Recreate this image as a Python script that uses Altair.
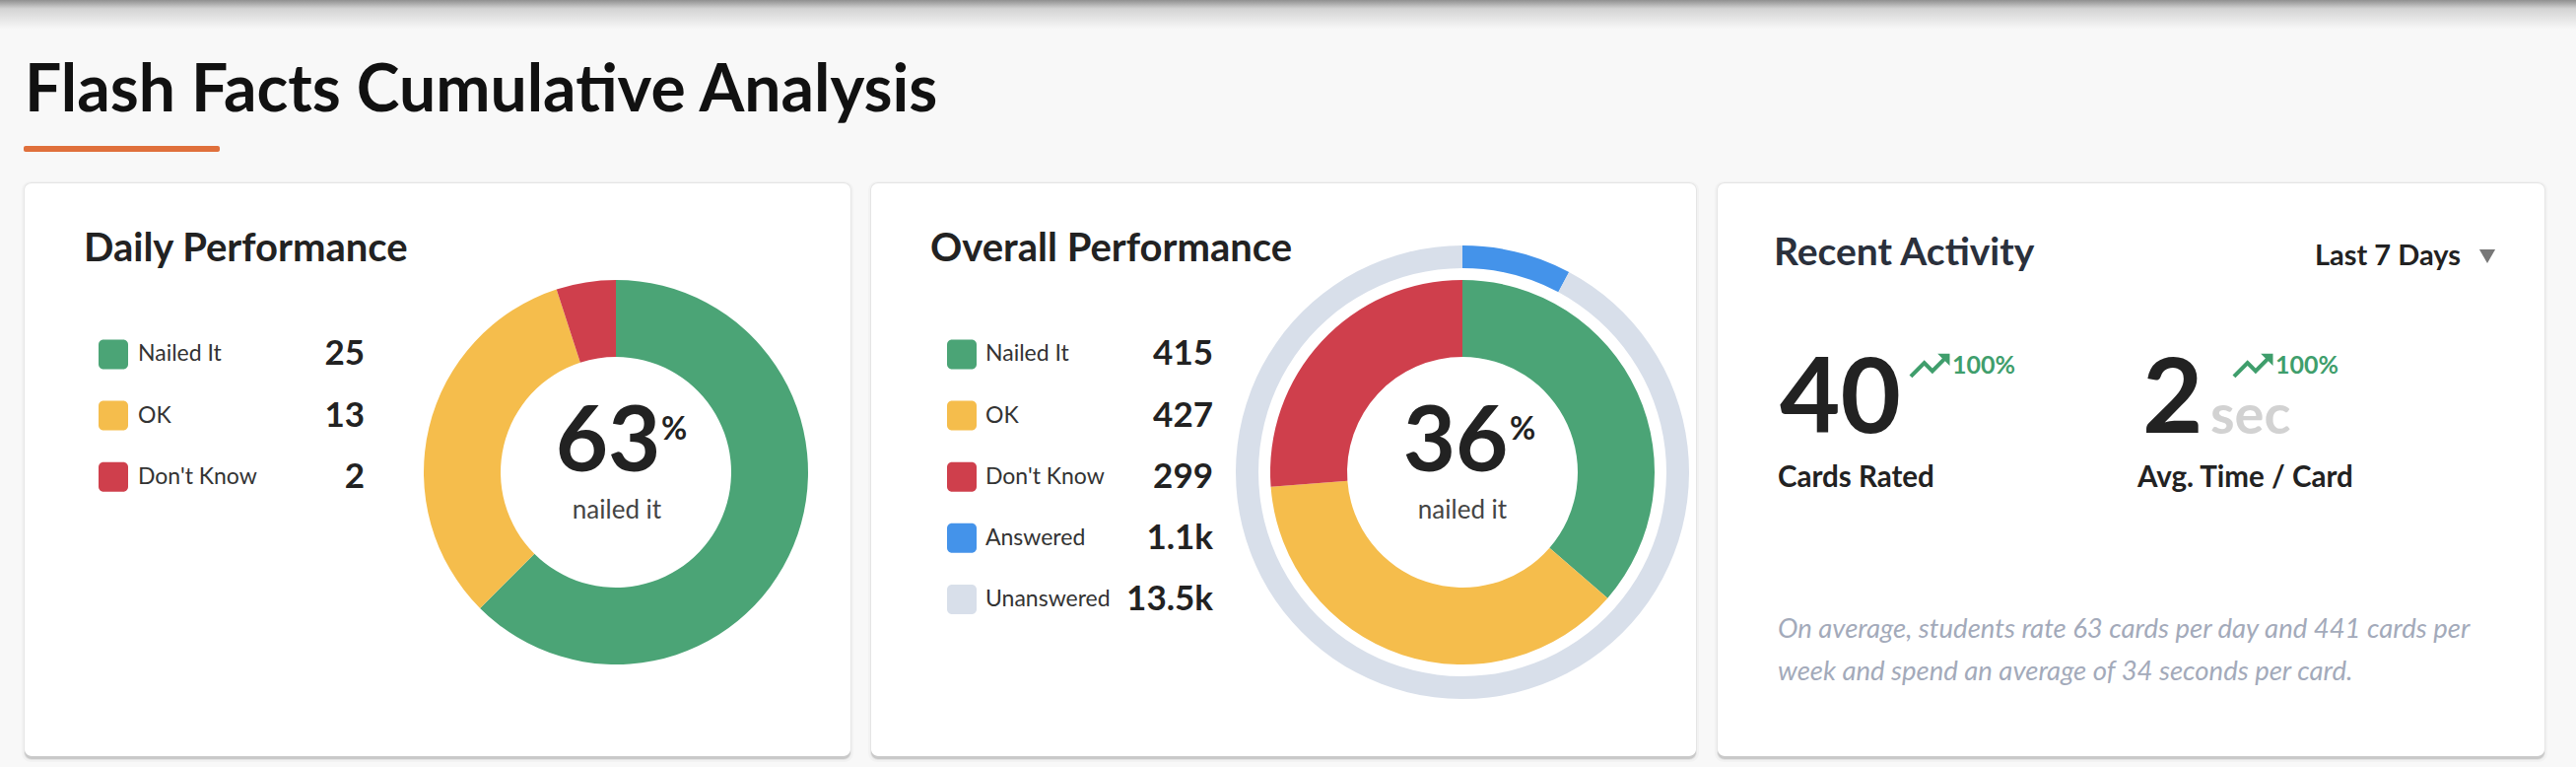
import altair as alt
import pandas as pd

# ---------------- data ----------------
daily_cats = ["Nailed It", "OK", "Don't Know"]
daily_vals = [25, 13, 2]
daily_pct = ["63"]

overall_cats = ["Nailed It", "OK", "Don't Know", "Answered", "Unanswered"]
overall_vals = [415, 427, 299, 1141, 13500]
overall_pct = ["36"]

ring_cats = ["Answered", "Unanswered"]
ring_vals = [1141, 13500]

all_cats = ["Nailed It", "OK", "Don't Know", "Answered", "Unanswered"]
all_colors = ["#4ba476", "#f5bd4c", "#cf3f4c", "#4493ea", "#d8dfea"]

recent_vals = ["40", "2"]
recent_change = ["100%", "100%"]
recent_labels = ["Cards Rated", "Avg. Time / Card"]
footnote = ["On average, students rate 63 cards per day and 441 cards per",
            "week and spend an average of 34 seconds per card."]

W, H = 2614, 778
FONT = "Lato"

def fmt(v):
    return f"{v/1000:.1f}k" if v >= 1000 else str(v)

color_scale = alt.Scale(domain=all_cats, range=all_colors)
one = pd.DataFrame({"a": [0]})


def txt(s, x, y, size, weight="normal", color="#222", align="left", style="normal", baseline="alphabetic"):
    return alt.Chart(one).mark_text(
        font=FONT, fontSize=size, fontWeight=weight, color=color, align=align,
        baseline=baseline, fontStyle=style
    ).encode(x=alt.value(x), y=alt.value(y), text=alt.value(s))


def rect(x0, x1, y0, y1, color, radius=0, opacity=1.0):
    return alt.Chart(one).mark_rect(color=color, cornerRadius=radius, opacity=opacity).encode(
        x=alt.value(x0), x2=alt.value(x1), y=alt.value(y0), y2=alt.value(y1))


layers = []

# top shadow gradient
layers.append(alt.Chart(one).mark_rect(
    color=alt.LinearGradient(gradient="linear", x1=0, y1=0, x2=0, y2=1,
                             stops=[alt.GradientStop(color="#909090", offset=0),
                                    alt.GradientStop(color="#d4d4d4", offset=0.3),
                                    alt.GradientStop(color="#f8f8f8", offset=1)])
).encode(x=alt.value(0), x2=alt.value(W), y=alt.value(0), y2=alt.value(30)))

# cards with shadows
cards = [(25, 863), (884, 1721), (1743, 2582)]
for x0, x1 in cards:
    layers.append(rect(x0 - 3, x1 + 3, 184, 773, "#000000", 9, 0.025))
    layers.append(rect(x0 - 1, x1 + 1, 185, 771, "#000000", 8, 0.05))
    layers.append(rect(x0, x1, 188, 770, "#000000", 7, 0.12))
    layers.append(rect(x0, x1, 186, 767, "#ffffff", 7))

# page title + underline
layers.append(txt("Flash Facts Cumulative Analysis", 25, 113, 66, "bold", "#111"))
layers.append(rect(24, 223, 148, 154, "#e0703c", 2))


def band(cats):
    n = len(cats)
    return alt.Scale(type="band", domain=cats, range=[344.5, 344.5 + 62.1 * (n - 0.517)],
                     paddingInner=0.517, paddingOuter=0)


def legend(df, cats, x_sw, x_lab, x_val):
    sc = band(cats)
    y = alt.Y("cat:N", scale=sc, axis=None, sort=None)
    sw = alt.Chart(df).mark_rect(cornerRadius=5).encode(
        x=alt.value(x_sw), x2=alt.value(x_sw + 30), y=y,
        color=alt.Color("cat:N", scale=color_scale, legend=None))
    lab = alt.Chart(df).mark_text(font=FONT, fontSize=23, color="#333", align="left",
                                  baseline="middle").encode(
        x=alt.value(x_lab), y=y, text="cat:N")
    val = alt.Chart(df).mark_text(font=FONT, fontSize=35, fontWeight="bold", color="#222",
                                  align="right", baseline="middle").encode(
        x=alt.value(x_val), y=y, text="lab:N")
    return [sw, lab, val]


# ---- Daily performance card ----
layers.append(txt("Daily Performance", 85, 265, 40, "bold", "#222"))

daily_df = pd.DataFrame({"cat": daily_cats, "v": daily_vals,
                         "lab": [fmt(v) for v in daily_vals], "i": list(range(3))})
layers += legend(daily_df, daily_cats, 100, 140, 370)

layers.append(alt.Chart(daily_df).mark_arc(innerRadius=117, outerRadius=195).encode(
    x=alt.value(625), y=alt.value(479),
    theta=alt.Theta("v:Q", stack=True),
    order=alt.Order("i:Q"),
    color=alt.Color("cat:N", scale=color_scale, legend=None)))

layers.append(txt(daily_pct[0], 617, 478, 92, "bold", "#222", align="center"))
layers.append(txt("%", 671, 446, 32, "bold", "#222"))
layers.append(txt("nailed it", 626, 526, 26, "normal", "#444", align="center"))

# ---- Overall performance card ----
layers.append(txt("Overall Performance", 944, 265, 40, "bold", "#222"))
overall_df = pd.DataFrame({"cat": overall_cats, "v": overall_vals,
                           "lab": [fmt(v) for v in overall_vals], "i": list(range(5))})
layers += legend(overall_df, overall_cats, 961, 1000, 1231)

inner_df = overall_df.iloc[:3]
layers.append(alt.Chart(inner_df).mark_arc(innerRadius=117, outerRadius=195).encode(
    x=alt.value(1484), y=alt.value(479),
    theta=alt.Theta("v:Q", stack=True),
    order=alt.Order("i:Q"),
    color=alt.Color("cat:N", scale=color_scale, legend=None)))
ring_df = pd.DataFrame({"cat": ring_cats, "v": ring_vals, "i": [0, 1]})
layers.append(alt.Chart(ring_df).mark_arc(innerRadius=207, outerRadius=230).encode(
    x=alt.value(1484), y=alt.value(479),
    theta=alt.Theta("v:Q", stack=True),
    order=alt.Order("i:Q"),
    color=alt.Color("cat:N", scale=color_scale, legend=None)))

layers.append(txt(overall_pct[0], 1477, 478, 92, "bold", "#222", align="center"))
layers.append(txt("%", 1532, 446, 32, "bold", "#222"))
layers.append(txt("nailed it", 1484, 526, 26, "normal", "#444", align="center"))

# ---- Recent activity card ----
layers.append(txt("Recent Activity", 1800, 269, 39, "bold", "#2a303c"))
layers.append(txt("Last 7 Days", 2349, 269, 29, "bold", "#222"))
layers.append(alt.Chart(one).mark_point(shape="triangle-down", filled=True, color="#777",
                                         size=260, opacity=1).encode(
    x=alt.value(2524), y=alt.value(260)))

trend_path = ("M 0.333 -0.5 L 0.524 -0.309 L 0.1175 0.0975 L -0.216 -0.236 L -0.833 0.3825 "
              "L -0.716 0.5 L -0.216 0 L 0.1175 0.333 L 0.6425 -0.191 L 0.833 0 L 0.833 -0.5 Z")

layers.append(txt(recent_vals[0], 1806, 439, 106, "bold", "#222"))
layers.append(alt.Chart(one).mark_point(shape=trend_path, filled=True, color="#3f9e6c",
                                         size=2420, opacity=1, strokeWidth=0).encode(
    x=alt.value(1958), y=alt.value(371)))
layers.append(txt(recent_change[0], 1981, 379, 25, "bold", "#3f9e6c"))

layers.append(txt(recent_vals[1], 2174, 439, 106, "bold", "#222"))
layers.append(txt("sec", 2243, 440, 56, "bold", "#d2d2d2"))
layers.append(alt.Chart(one).mark_point(shape=trend_path, filled=True, color="#3f9e6c",
                                         size=2420, opacity=1, strokeWidth=0).encode(
    x=alt.value(2286), y=alt.value(371)))
layers.append(txt(recent_change[1], 2309, 379, 25, "bold", "#3f9e6c"))

layers.append(txt(recent_labels[0], 1804, 494, 29.5, "bold", "#222"))
layers.append(txt(recent_labels[1], 2169, 494, 29.5, "bold", "#222"))

layers.append(txt(footnote[0], 1804, 647, 27.5, "normal", "#a3aaba", style="italic"))
layers.append(txt(footnote[1], 1804, 690, 27.5, "normal", "#a3aaba", style="italic"))

chart = alt.layer(*layers).resolve_scale(
    y="independent", theta="independent", color="independent", x="independent"
).properties(
    width=W, height=H, padding=0, background="#f8f8f8",
    autosize=alt.AutoSizeParams(type="none")
).configure_view(stroke=None)

chart.save("out.html", embed_options={"renderer": "svg", "actions": False})
